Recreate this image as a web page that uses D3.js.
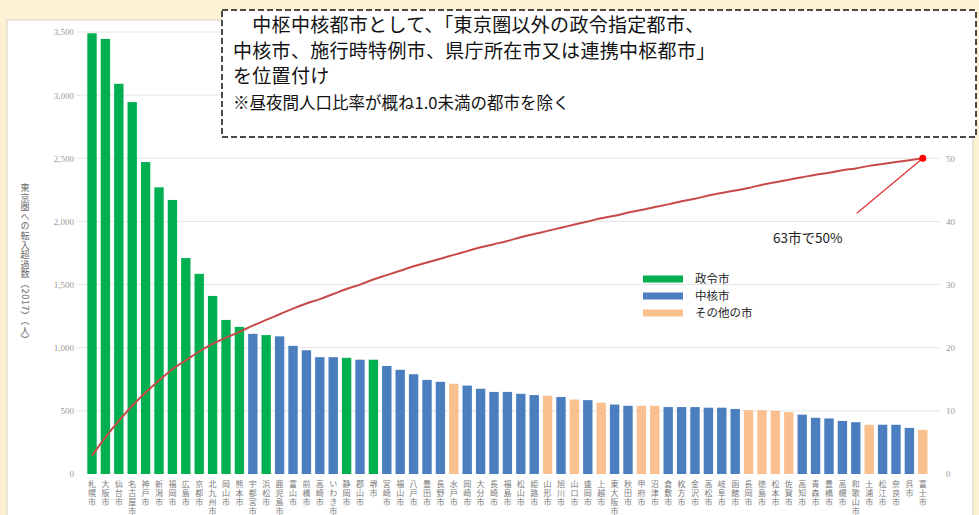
<!DOCTYPE html>
<html><head><meta charset="utf-8">
<script src="https://cdn.jsdelivr.net/npm/d3@7"></script>
<style>html,body{margin:0;padding:0;background:#fdf1d3;}svg{display:block;}</style>
</head><body>
<svg id="c" width="979" height="515"></svg>
<script>
const cities = ["札幌市","大阪市","仙台市","名古屋市","神戸市","新潟市","福岡市","広島市","京都市","北九州市","岡山市","熊本市",
"宇都宮市","浜松市","鹿児島市","富山市","前橋市","高崎市","いわき市","静岡市","郡山市","堺市",
"宮崎市","福山市","八戸市","豊田市","長野市","水戸市","岡崎市","大分市","長崎市","福島市","松山市",
"姫路市","山形市","旭川市","山口市","盛岡市","上越市","東大阪市","秋田市","甲府市","沼津市",
"倉敷市","枚方市","金沢市","高松市","岐阜市","函館市","長岡市","徳島市","松本市","佐賀市",
"高知市","青森市","豊橋市","高槻市","和歌山市","土浦市","松江市","奈良市","呉市","富士市"];
const types = ["G","G","G","G","G","G","G","G","G","G","G","G",
"B","G","B","B","B","B","B","G","B","G",
"B","B","B","B","B","O","B","B","B","B","B",
"B","O","B","O","B","O","B","B","O","O",
"B","B","B","B","B","B","O","O","O","O",
"B","B","B","B","B","O","B","B","B","O"];
const values = [3490,3445,3090,2945,2470,2270,2170,1710,1585,1410,1220,1165,
1110,1100,1090,1015,980,925,925,920,905,905,
855,825,790,745,730,715,700,675,650,650,635,
625,620,610,590,585,565,550,540,540,540,
530,530,530,525,525,515,505,505,500,490,
470,445,440,420,410,390,390,390,365,350];
const cumPct = [2.9,5.8,8.4,10.8,12.9,14.8,16.6,18.0,19.4,20.6,21.6,22.5,
23.5,24.4,25.3,26.2,27.0,27.7,28.5,29.3,30.0,30.8,
31.5,32.2,32.9,33.5,34.1,34.7,35.3,35.9,36.4,36.9,37.5,
38.0,38.5,39.0,39.5,40.0,40.5,40.9,41.4,41.8,42.3,
42.7,43.2,43.6,44.1,44.5,44.9,45.3,45.8,46.2,46.6,
47.0,47.4,47.7,48.1,48.4,48.8,49.1,49.4,49.7,50.0];
const leftTicks = [0,500,1000,1500,2000,2500,3000,3500];
const rightTicks = [0,10,20,30,40,50];
const legendLabels = ["政令市","中核市","その他の市"];
const legendKeys = ["G","B","O"];
const boxLines = ["　中枢中核都市として、「東京圏以外の政令指定都市、","中核市、施行時特例市、県庁所在市又は連携中枢都市」","を位置付け"];
const boxNote = "※昼夜間人口比率が概ね1.0未満の都市を除く";
const yTitle = "東京圏への転入超過数（2017）（人）";
const noteLabel = "63市で50%";

const colors = {G:"#00b050",B:"#4a7ebf",O:"#fac08f"};
const svg = d3.select("#c");

// panel
svg.append("rect").attr("x",7).attr("y",20).attr("width",966).attr("height",500)
  .attr("fill","#fff").attr("stroke","#d8d2c4").attr("stroke-width",1);

const x = d3.scaleBand().domain(d3.range(cities.length)).range([83.3,931.5]).padding(0.3);
const y = d3.scaleLinear().domain([0,3500]).range([474,32]);
const yr = d3.scaleLinear().domain([0,70]).range([474,32]);

// gridlines
svg.append("g").selectAll("line").data(leftTicks.slice(1)).join("line")
  .attr("x1",76).attr("x2",940).attr("y1",d=>y(d)).attr("y2",d=>y(d))
  .attr("stroke","#e6e6e6").attr("stroke-width",1);

// left axis
const ga = svg.append("g").attr("transform","translate(74,0)")
  .call(d3.axisLeft(y).tickValues(leftTicks).tickFormat(d3.format(",")).tickSize(0).tickPadding(0));
ga.select(".domain").remove();
ga.selectAll("text").attr("fill","#999").attr("font-family","Liberation Serif").attr("font-size",9);

// right axis
const gr = svg.append("g").attr("transform","translate(946,0)")
  .call(d3.axisRight(yr).tickValues(rightTicks).tickSize(0).tickPadding(0));
gr.select(".domain").remove();
gr.selectAll("text").attr("fill","#999").attr("font-family","Liberation Serif").attr("font-size",9);

// y title
svg.append("text").attr("x",25).attr("y",183)
  .attr("style","writing-mode: vertical-rl; text-orientation: mixed;")
  .attr("font-family","Noto Sans CJK JP").attr("font-size",9).attr("fill","#666")
  .attr("letter-spacing",0.6)
  .text(yTitle);

// bars
svg.append("g").selectAll("rect").data(values).join("rect")
  .attr("x",(d,i)=>x(i)).attr("width",x.bandwidth())
  .attr("y",d=>y(d)).attr("height",d=>y(0)-y(d))
  .attr("fill",(d,i)=>colors[types[i]]);

// x labels (vertical text)
svg.append("g").selectAll("text").data(cities).join("text")
  .attr("x",(d,i)=>x(i)+x.bandwidth()/2).attr("y",480)
  .attr("style","writing-mode: vertical-rl; text-orientation: upright;")
  .attr("font-family","Noto Sans CJK JP").attr("font-size",8).attr("letter-spacing",1)
  .attr("fill","#7a7a7a").text(d=>d);

// cumulative line
const line = d3.line().x((d,i)=>x(i)+x.bandwidth()/2).y(d=>yr(d)).curve(d3.curveMonotoneX);
svg.append("path").datum(cumPct).attr("d",line).attr("fill","none")
  .attr("stroke","#c84a48").attr("stroke-width",2);

// end point + leader
const li = cumPct.length-1;
const ex = x(li)+x.bandwidth()/2, ey = yr(cumPct[li]);
svg.append("line").attr("x1",ex).attr("y1",ey).attr("x2",ex-66).attr("y2",ey+55)
  .attr("stroke","#e03030").attr("stroke-width",1.2);
svg.append("circle").attr("cx",ex).attr("cy",ey).attr("r",3.5).attr("fill","#ff0000");
svg.append("text").attr("x",773).attr("y",243).attr("font-family","Noto Sans CJK JP")
  .attr("font-size",13.5).attr("fill","#222").text(noteLabel);

// legend
const lg = svg.append("g");
legendKeys.forEach((k,i)=>{
  lg.append("rect").attr("x",643).attr("y",275.5+i*17).attr("width",40).attr("height",7).attr("fill",colors[k]);
  lg.append("text").attr("x",695).attr("y",283+i*17).attr("font-family","Noto Sans CJK JP")
    .attr("font-size",11.5).attr("fill","#222").text(legendLabels[i]);
});

// annotation box
svg.append("rect").attr("x",222).attr("y",10).attr("width",754).attr("height",127)
  .attr("fill","#fff").attr("stroke","#111").attr("stroke-width",1.5).attr("stroke-dasharray","6,3");
boxLines.forEach((t,i)=>{
  svg.append("text").attr("x",233).attr("y",32+i*25.5).attr("font-family","Noto Sans CJK JP")
    .attr("font-size",19).attr("letter-spacing",0.3).attr("fill","#111").text(t);
});
svg.append("text").attr("x",233).attr("y",109).attr("font-family","Noto Sans CJK JP")
  .attr("font-size",16.5).attr("fill","#111").text(boxNote);
</script>
</body></html>
